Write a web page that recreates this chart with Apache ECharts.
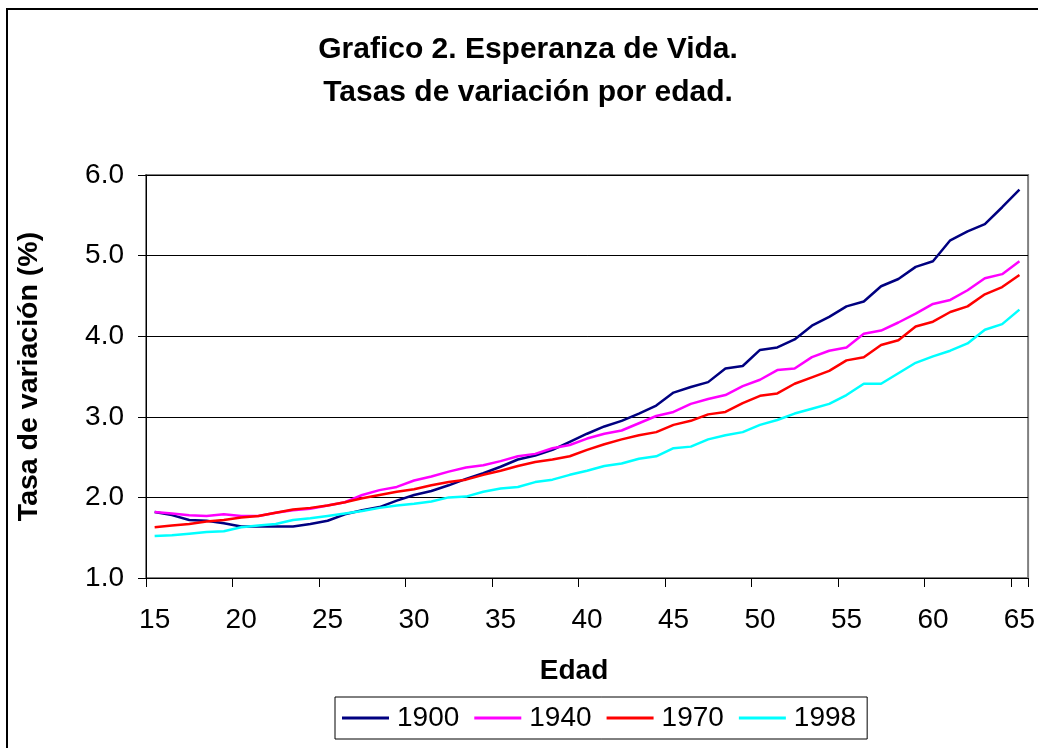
<!DOCTYPE html>
<html>
<head>
<meta charset="utf-8">
<script src="https://cdn.jsdelivr.net/npm/echarts@6/dist/echarts.min.js"></script>
<style>
  html, body { margin: 0; padding: 0; background: #fff; }
  #chart { width: 1038px; height: 748px; }
</style>
</head>
<body>
<div id="chart"></div>
<script>
// edades 15..65
var edades = [];
for (var e = 15; e <= 65; e++) edades.push(String(e));

var serie1900 = [1.82,1.78,1.72,1.71,1.68,1.64,1.64,1.64,1.64,1.67,1.71,1.79,1.84,1.88,1.96,2.03,2.08,
  2.15,2.23,2.30,2.38,2.47,2.52,2.59,2.69,2.79,2.88,2.95,3.04,3.14,3.30,3.37,3.43,
  3.60,3.63,3.83,3.86,3.96,4.13,4.24,4.37,4.43,4.62,4.71,4.86,4.93,5.19,5.30,5.39,5.60,5.82];
var serie1940 = [1.82,1.80,1.78,1.77,1.79,1.77,1.77,1.81,1.84,1.86,1.90,1.94,2.03,2.09,2.13,2.21,2.26,
  2.32,2.37,2.40,2.45,2.51,2.54,2.61,2.65,2.73,2.79,2.83,2.92,3.01,3.06,3.16,3.22,
  3.27,3.38,3.46,3.58,3.60,3.74,3.82,3.86,4.03,4.07,4.17,4.28,4.40,4.45,4.57,4.72,4.77,4.93];
var serie1970 = [1.63,1.65,1.67,1.70,1.72,1.75,1.77,1.81,1.85,1.87,1.90,1.94,1.99,2.03,2.07,2.10,2.15,
  2.19,2.22,2.28,2.33,2.39,2.44,2.47,2.51,2.59,2.66,2.72,2.77,2.81,2.90,2.95,3.03,
  3.06,3.17,3.26,3.29,3.41,3.49,3.57,3.70,3.74,3.89,3.95,4.12,4.18,4.30,4.37,4.52,4.61,4.76];
var serie1998 = [1.52,1.53,1.55,1.57,1.58,1.63,1.65,1.67,1.72,1.74,1.77,1.80,1.83,1.87,1.90,1.92,1.95,
  2.00,2.01,2.07,2.11,2.13,2.19,2.22,2.28,2.33,2.39,2.42,2.48,2.51,2.61,2.63,2.72,
  2.77,2.81,2.90,2.96,3.04,3.10,3.16,3.27,3.41,3.41,3.54,3.67,3.75,3.82,3.91,4.08,4.15,4.33];

var nombres = ['1900', '1940', '1970', '1998'];
var colores = ['#000080', '#FF00FF', '#FF0000', '#00FFFF'];
var datos = [serie1900, serie1940, serie1970, serie1998];

var fuente = "'Liberation Sans', Arial, sans-serif";

var dom = document.getElementById('chart');
var myChart = echarts.init(dom);

var series = [];
for (var i = 0; i < nombres.length; i++) {
    series.push({
        name: nombres[i],
        type: 'line',
        data: datos[i],
        symbol: 'none',
        lineStyle: { color: colores[i], width: 2.5 },
        itemStyle: { color: colores[i] }
    });
}

var option = {
    animation: false,
    backgroundColor: '#fff',
    textStyle: { fontFamily: fuente },
    graphic: [{
        type: 'rect',
        shape: { x: 7, y: 9, width: 1100, height: 800 },
        style: { fill: 'none', stroke: '#000', lineWidth: 2 },
        silent: true
    }],
    title: {
        text: 'Grafico 2. Esperanza de Vida.\nTasas de variación por edad.',
        left: 523,
        top: 23,
        textAlign: 'center',
        textStyle: {
            fontFamily: fuente,
            fontSize: 30,
            fontWeight: 'bold',
            color: '#000',
            lineHeight: 43
        }
    },
    legend: {
        data: nombres,
        left: 335,
        top: 697,
        icon: 'rect',
        itemWidth: 47,
        itemHeight: 3,
        itemGap: 15,
        padding: [7, 11, 7, 7],
        borderColor: '#000',
        borderWidth: 1,
        textStyle: { fontFamily: fuente, fontSize: 28, color: '#000', padding: [0, 0, 0, 3] }
    },
    grid: {
        left: 146,
        top: 175,
        right: 8,
        bottom: 170,
        show: true,
        borderColor: '#808080',
        borderWidth: 2
    },
    xAxis: {
        type: 'category',
        data: edades,
        boundaryGap: true,
        name: 'Edad',
        nameLocation: 'middle',
        nameGap: 79,
        nameTextStyle: { fontFamily: fuente, fontSize: 28, fontWeight: 'bold', color: '#000', padding: [0, 26, 0, 0] },
        axisLine: { lineStyle: { color: '#000', width: 1 } },
        axisTick: { show: true, interval: 4, length: 9, lineStyle: { color: '#000' } },
        axisLabel: { interval: 4, margin: 28, fontSize: 28, color: '#000', fontFamily: fuente },
        splitLine: { show: false }
    },
    yAxis: {
        type: 'value',
        min: 1,
        max: 6,
        interval: 1,
        name: 'Tasa de variación (%)',
        nameLocation: 'middle',
        nameGap: 102,
        nameTextStyle: { fontFamily: fuente, fontSize: 28.5, fontWeight: 'bold', color: '#000' },
        axisLine: { show: true, lineStyle: { color: '#000', width: 1 } },
        axisTick: { show: true, length: 8, lineStyle: { color: '#000' } },
        axisLabel: {
            margin: 22, fontSize: 28, color: '#000', fontFamily: fuente,
            formatter: function (v) { return v.toFixed(1); }
        },
        splitLine: { show: true, lineStyle: { color: '#000', width: 1 } }
    },
    series: series
};

if (option && typeof option === "object") {
    myChart.setOption(option, true);
}
</script>
</body>
</html>
